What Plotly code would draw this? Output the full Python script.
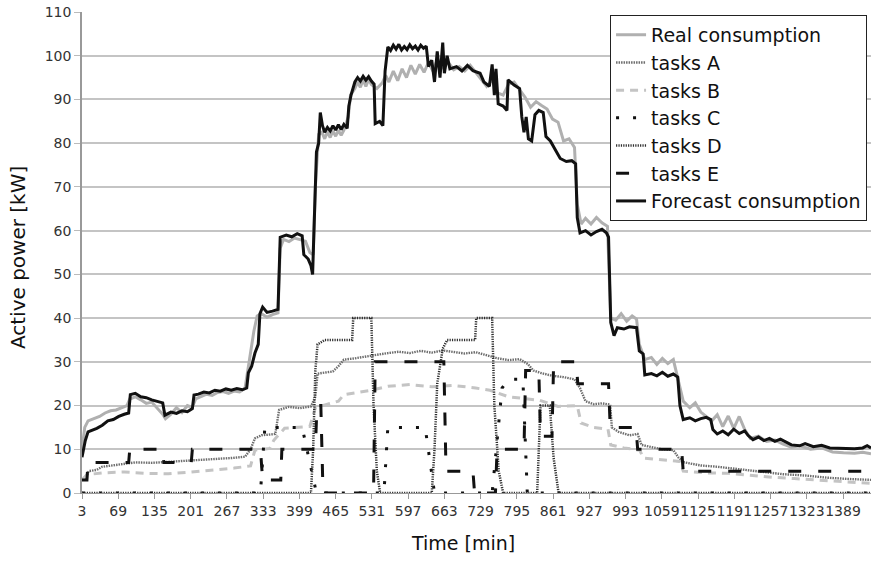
import plotly.graph_objects as go

# ---- time axis ticks [min] ----
x_ticks = [3, 69, 135, 201, 267, 333, 399, 465, 531, 597, 663, 729, 795,
           861, 927, 993, 1059, 1125, 1191, 1257, 1323, 1389]
y_ticks = [0, 10, 20, 30, 40, 50, 60, 70, 80, 90, 100, 110]

# ---- real consumption [kW] ----
t_real = [3, 8, 14, 25, 35, 45, 55, 65, 75, 85, 90, 100, 110, 120, 130, 140, 150, 155,
          165, 175, 185, 195, 204, 210, 220, 230, 240, 250, 260, 270, 280, 290, 300,
          305, 310, 316, 322, 330, 340, 350, 360, 364, 370, 380, 390, 400, 410, 418,
          424, 428, 434, 440, 445, 450, 455, 460, 465, 470, 475, 480, 488, 492, 500,
          505, 510, 515, 520, 525, 530, 540, 550, 556, 562, 570, 578, 586, 594, 602,
          610, 618, 626, 634, 642, 650, 660, 670, 680, 690, 700, 710, 720, 730, 740,
          750, 760, 770, 780, 790, 800, 810, 820, 830, 840, 850, 860, 870, 880, 890,
          900, 905, 912, 920, 930, 940, 950, 960, 966, 975, 985, 995, 1005, 1013, 1018,
          1028, 1040, 1050, 1060, 1070, 1080, 1090, 1098, 1110, 1120, 1130, 1140, 1150,
          1160, 1170, 1180, 1190, 1200, 1210, 1220, 1235, 1250, 1265, 1280, 1295, 1310,
          1330, 1350, 1370, 1390, 1410, 1425, 1440]
kw_real = [10, 15, 16.5, 17, 17.5, 18.3, 18.8, 19, 19.5, 20, 21.5, 22, 21.3, 20.5, 20.8,
           19.5, 18, 17, 18, 19.5, 18.4, 20, 19.6, 21.5, 22, 22.6, 22.3, 23, 23.2, 22.8,
           23.3, 23.1, 24, 28, 33, 37, 40.5, 41, 40.2, 40.8, 41.2, 56, 58, 57.5, 58.3,
           58, 57.6, 55, 54.5, 70, 82, 82.5, 81, 82.6, 81.3, 82.8, 81.6, 82.9, 81.8, 83,
           86, 91, 92.5, 94, 92.8, 94.5, 93, 94.6, 93.4, 92.5, 93.8, 95.5, 94, 96.5, 94.3,
           97, 95, 97.8, 95.8, 98, 96.2, 98.5, 96.5, 99, 97.3, 98.5, 96.8, 97.5, 96.5,
           97.8, 96.2, 94.5, 93, 94.5, 91.5, 91, 93.5, 94, 92.2, 90.5, 88.2, 89.5, 88.6,
           87.8, 85.5, 84.8, 80.5, 81, 79, 66, 61.5, 62.8, 61.5, 63, 61.8, 61, 40, 39.5,
           41, 39.3, 40.5, 39.8, 34, 30.5, 31, 29.4, 30.8, 29.6, 30.5, 25, 21, 19.5,
           20.6, 18.5, 17.6, 16.5, 17.9, 15.2, 17.6, 14.8, 17.5, 14.5, 12.5, 13, 11.8,
           12.1, 11.2, 10.5, 10.8, 10, 10.3, 9.4, 9.2, 9.1, 9.3, 9]

# ---- forecast consumption [kW] ----
t_fc = [3, 9, 14, 20, 30, 40, 50, 60, 70, 80, 88, 91, 100, 110, 120, 130, 140, 150,
        154, 165, 175, 185, 195, 204, 207, 215, 225, 235, 245, 255, 265, 275, 285, 295,
        303, 306, 312, 318, 324, 327, 332, 340, 350, 360, 364, 375, 385, 395, 404, 407,
        415, 420, 423, 426, 430, 434, 437, 441, 445, 450, 455, 460, 465, 470, 475, 480,
        486, 489, 493, 500, 505, 510, 515, 520, 525, 530, 535, 537, 545, 551, 555, 560,
        565, 570, 575, 580, 585, 590, 595, 600, 605, 610, 615, 620, 625, 630, 634, 640,
        645, 650, 655, 660, 663, 668, 673, 685, 695, 705, 715, 728, 735, 745, 750, 754,
        757, 761, 770, 777, 779, 790, 800, 804, 808, 812, 816, 822, 828, 835, 843, 848,
        856, 865, 874, 885, 895, 902, 905, 910, 920, 930, 940, 950, 958, 962, 966, 972,
        978, 990, 1000, 1013, 1018, 1025, 1028, 1040, 1050, 1060, 1070, 1080, 1088,
        1092, 1098, 1110, 1120, 1130, 1140, 1148, 1152, 1160, 1170, 1180, 1190, 1200,
        1210, 1216, 1225, 1235, 1245, 1255, 1265, 1275, 1287, 1295, 1310, 1320, 1335,
        1350, 1365, 1380, 1395, 1410, 1425, 1433, 1440]
kw_fc = [8.2, 12, 14, 14.3, 14.8, 15.5, 16.5, 16.8, 17.5, 18, 18.3, 22.5, 22.8, 22, 21.8,
         21.3, 21, 20.6, 17.8, 18.5, 18.2, 18.8, 18.6, 19.3, 22.4, 22.6, 23.1, 22.9, 23.5,
         23.3, 23.8, 23.5, 23.9, 23.6, 24, 27.5, 29, 32, 34, 41, 42.5, 41.3, 41.6, 42,
         58.5, 59, 58.6, 59.3, 58.8, 54.5, 53.5, 52, 50, 64, 78, 80, 87, 84, 82.5, 83.6,
         82.8, 84, 83, 84.2, 83.1, 84.3, 83.4, 88.5, 91, 94, 95, 94.2, 95.3, 94.4, 95.2,
         94.2, 93.5, 84.5, 85, 84, 96.5, 102, 101.2, 102.4, 101.5, 102.6, 101.3, 102.1,
         101.4, 102.5, 101.6, 102.2, 101.3, 102.4, 101.7, 102.2, 97.5, 99, 94, 101, 95,
         103, 96, 100, 97, 97.5, 96.5, 97.8, 96.6, 96, 94, 93, 98, 91, 97, 89, 88.5,
         87.5, 94.5, 93.3, 92.5, 86, 82.5, 86, 81, 80.5, 86.5, 87.5, 87, 81.5, 80.5,
         78.5, 76.5, 75.8, 76, 75.3, 63, 59.5, 60, 59, 59.8, 60.3, 59.5, 58.5, 39, 36,
         37.8, 37.5, 38, 37.8, 32.5, 31.8, 27, 27.3, 26.8, 27.6, 26.7, 27.2, 26.5, 20,
         16.8, 17.2, 16.5, 17, 17.3, 16.8, 14.5, 13.5, 14.2, 13.3, 14.6, 13.6, 14.2,
         13.2, 12.2, 12.8, 12, 12.5, 11.8, 12.3, 11.5, 11, 10.8, 11.3, 10.6, 10.9, 10.3,
         10.2, 10.2, 10.1, 10.3, 10.8, 10.3]

# ---- tasks A [kW] ----
t_a = [3, 10, 15, 30, 40, 60, 80, 100, 130, 160, 190, 220, 250, 275, 300, 310, 318,
       330, 355, 362, 380, 400, 420, 428, 432, 460, 470, 480, 500, 520, 540, 560, 580,
       600, 620, 640, 660, 680, 700, 720, 740, 760, 780, 800, 815, 825, 840, 860, 880,
       900, 910, 920, 935, 950, 965, 968, 980, 1000, 1015, 1022, 1040, 1060, 1080,
       1090, 1100, 1130, 1160, 1200, 1240, 1280, 1320, 1360, 1400, 1440]
kw_a = [3, 3.5, 5, 5.3, 6, 6.3, 6.6, 7, 6.9, 7.1, 7.3, 7.6, 7.8, 8, 8.3, 10, 12.5, 13.2,
        13.5, 19, 19.7, 19.4, 19.8, 22, 27.3, 27.8, 29, 30.5, 30.8, 31.2, 31.7, 32, 32.3,
        32, 32.5, 32.1, 32.6, 32.3, 31.9, 32.2, 31.5, 30.8, 30.4, 30.6, 29.5, 28, 27.4,
        26.8, 26.5, 26, 24, 21, 20.3, 20.5, 20.2, 15, 14, 13.2, 13.5, 11, 10.5, 10, 9.8,
        8, 7, 6.3, 6, 5.4, 4.8, 4.3, 4, 3.5, 3.2, 3]

# ---- tasks B [kW] ----
t_b = [3, 12, 40, 80, 120, 160, 200, 240, 280, 310, 318, 345, 352, 372, 418, 428, 470,
       480, 530, 560, 600, 640, 680, 720, 746, 780, 837, 870, 905, 912, 935, 961, 966,
       990, 1019, 1025, 1060, 1092, 1098, 1140, 1180, 1220, 1260, 1300, 1340, 1380,
       1410, 1440]
kw_b = [3, 4.2, 4.6, 4.8, 4.5, 4.4, 4.8, 5.2, 5.7, 6.2, 9.8, 10.2, 12, 14.8, 15.2, 19.5,
        21, 22.5, 23.5, 24.4, 24.8, 24.3, 24.6, 24, 23.5, 22, 21.2, 19.8, 20, 16, 15,
        14.6, 11, 10.3, 9.8, 8, 7.5, 7.2, 5, 4.6, 4.5, 4, 3.6, 3.3, 3, 2.7, 2.4, 2.2]

# ---- tasks C [kW] ----
t_c = [3, 328, 336, 404, 430, 553, 560, 628, 645, 750, 768, 780, 806, 814, 1440]
kw_c = [0, 0, 15, 15, 0, 0, 15, 15, 0, 0, 24, 26, 26, 0, 0]

# ---- tasks D [kW] ----
t_d = [3, 420, 424, 428, 432, 445, 495, 497, 530, 534, 540, 546, 640, 645, 650, 660,
       668, 719, 721, 750, 754, 762, 770, 832, 838, 855, 862, 871, 1440]
kw_d = [0, 0, 10, 28, 34, 35, 35, 40, 40, 20, 5, 0, 0, 10, 25, 33, 35, 35, 40, 40, 20,
        5, 0, 0, 20, 20, 8, 0, 0]

# ---- tasks E [kW] ----
t_e = [3, 12, 14, 88, 90, 150, 152, 202, 204, 328, 332, 365, 367, 428, 431, 438, 442,
       534, 537, 662, 666, 715, 718, 756, 759, 808, 811, 835, 838, 859, 862, 903, 906,
       962, 965, 1012, 1015, 1095, 1098, 1440]
kw_e = [3, 3, 7, 7, 10, 10, 7, 7, 10, 10, 3, 3, 10, 10, 20, 20, 0, 0, 30, 30, 5, 5, 0,
        0, 10, 10, 28, 28, 13, 13, 30, 30, 25, 25, 15, 15, 10, 10, 5, 5]

FONT = "DejaVu Sans"

fig = go.Figure()

series = [
    ("Real consumption", t_real, kw_real, dict(color="#b0b0b0", width=3)),
    ("tasks A", t_a, kw_a, dict(color="#6e6e6e", width=2.4, dash="1.5px,1px")),
    ("tasks B", t_b, kw_b, dict(color="#c4c4c4", width=3, dash="8px,6px")),
    ("tasks C", t_c, kw_c, dict(color="#111111", width=3, dash="3px,14px")),
    ("tasks D", t_d, kw_d, dict(color="#2e2e2e", width=2.5, dash="1.2px,1.2px")),
    ("tasks E", t_e, kw_e, dict(color="#111111", width=3, dash="13px,17px")),
    ("Forecast consumption", t_fc, kw_fc, dict(color="#111111", width=3)),
]
for name, tx, ty, line in series:
    fig.add_trace(go.Scatter(x=tx, y=ty, mode="lines", name=name, line=line))

fig.update_layout(
    width=871, height=561,
    margin=dict(l=82, r=0, t=12, b=68),
    paper_bgcolor="white", plot_bgcolor="white",
    font=dict(family=FONT, color="#333333"),
    showlegend=True,
    legend=dict(
        x=0.995, xanchor="right", y=0.994, yanchor="top",
        bgcolor="white", bordercolor="#222222", borderwidth=1,
        font=dict(family=FONT, size=19, color="#111111"),
        itemwidth=30,
    ),
    xaxis=dict(
        range=[3, 1440], tickvals=x_ticks, ticktext=[str(v) for v in x_ticks],
        tickangle=0, tickfont=dict(size=14, color="#333333"),
        showgrid=False, zeroline=False,
        showline=True, linecolor="#999999", linewidth=1,
        ticks="outside", ticklen=5, tickcolor="#999999",
    ),
    yaxis=dict(
        range=[0, 110], tickvals=y_ticks,
        tickfont=dict(size=14, color="#333333"),
        showgrid=True, gridcolor="#c4c4c4", gridwidth=1.5,
        zeroline=False, showline=True, linecolor="#999999", linewidth=1.5,
        ticks="outside", ticklen=6, tickcolor="#bbbbbb",
    ),
    annotations=[
        dict(text="Time [min]", xref="paper", yref="paper", x=0.4823, y=-0.104,
             xanchor="center", yanchor="middle", showarrow=False,
             font=dict(family=FONT, size=19, color="#111111")),
        dict(text="Active power [kW]", xref="paper", yref="paper", x=-0.081, y=0.4886,
             xanchor="center", yanchor="middle", showarrow=False, textangle=-90,
             font=dict(family=FONT, size=20, color="#111111")),
    ],
)

fig.write_html("out.html")
